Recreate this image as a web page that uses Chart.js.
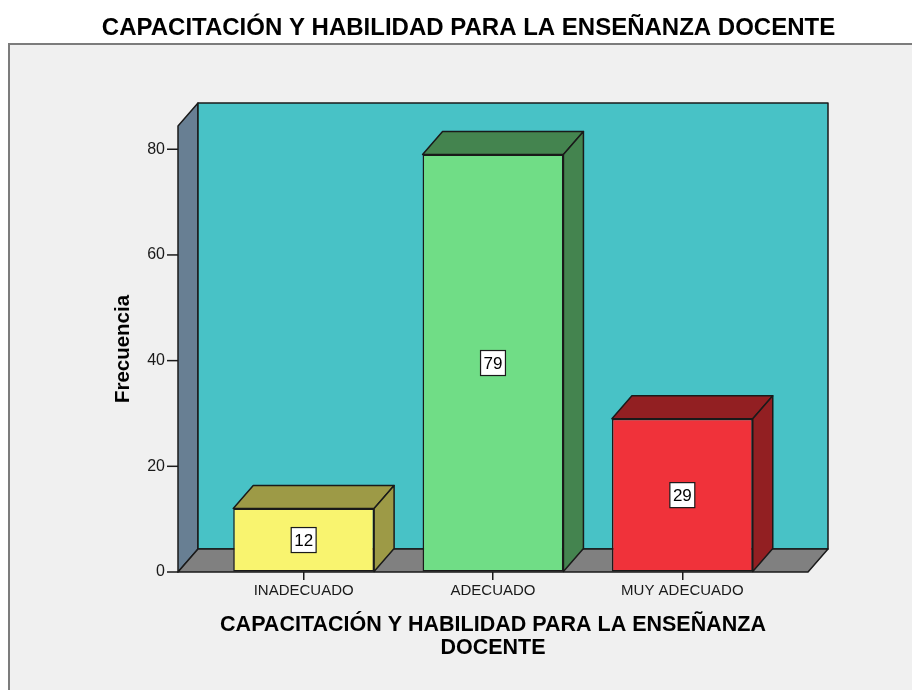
<!DOCTYPE html>
<html lang="es">
<head>
<meta charset="utf-8">
<title>Capacitación y habilidad para la enseñanza docente</title>
<script src="https://cdn.jsdelivr.net/npm/chart.js@4.4.1/dist/chart.umd.min.js"></script>
<style>
    html, body { margin: 0; padding: 0; background: #ffffff; }
    #wrap { position: relative; width: 912px; height: 690px; }
</style>
</head>
<body>
<div id="wrap"><canvas id="chart"></canvas></div>
<script>
// Chart data
const categories = ['INADECUADO', 'ADECUADO', 'MUY ADECUADO'];
const frequencies = [12, 79, 29];
const yTicks = [0, 20, 40, 60, 80];

// Bar colours (front face / top and side faces)
const frontColors = ['#f9f46f', '#70dd86', '#f0323a'];
const shadeColors = ['#9d9a46', '#44844f', '#921f22'];

// 3D depth offset and how far the walls reach past the plot area
const DX = 20;
const DY = -23;
const WALL_PAD = 31;
const EDGE = '#1a1a1a';

const FONT = '"Liberation Sans", Arial, sans-serif';

// Draw a filled, outlined polygon
function poly(ctx, pts, fill) {
    ctx.beginPath();
    ctx.moveTo(pts[0][0], pts[0][1]);
    for (let i = 1; i < pts.length; i++) ctx.lineTo(pts[i][0], pts[i][1]);
    ctx.closePath();
    ctx.fillStyle = fill;
    ctx.fill();
    ctx.strokeStyle = EDGE;
    ctx.lineWidth = 1.5;
    ctx.stroke();
}

// Frame, walls, floor and the 3D faces of the bars
const box3d = {
    id: 'box3d',
    beforeDraw(chart) {
        const ctx = chart.ctx;
        ctx.save();
        ctx.fillStyle = '#ffffff';
        ctx.fillRect(0, 0, chart.width, chart.height);
        ctx.fillStyle = '#f0f0f0';
        ctx.fillRect(8, 43, chart.width, chart.height);
        ctx.strokeStyle = '#7c7c7c';
        ctx.lineWidth = 2;
        ctx.beginPath();
        ctx.moveTo(9, chart.height + 2);
        ctx.lineTo(9, 44);
        ctx.lineTo(chart.width + 2, 44);
        ctx.stroke();
        ctx.restore();
    },
    beforeDatasetsDraw(chart) {
        const ctx = chart.ctx;
        const area = chart.chartArea;
        const y = chart.scales.y;
        const left = area.left - WALL_PAD;
        const right = area.right + WALL_PAD;
        const top = area.top;
        const bottom = y.getPixelForValue(0);

        ctx.save();
        ctx.lineJoin = 'round';
        // side wall, back wall, floor
        poly(ctx, [[left, bottom], [left, top], [left + DX, top + DY], [left + DX, bottom + DY]], '#687f93');
        poly(ctx, [[left + DX, top + DY], [right + DX, top + DY], [right + DX, bottom + DY], [left + DX, bottom + DY]], '#48c2c6');
        poly(ctx, [[left, bottom], [left + DX, bottom + DY], [right + DX, bottom + DY], [right, bottom]], '#808080');

        // y tick marks against the side wall
        ctx.strokeStyle = EDGE;
        ctx.lineWidth = 1.5;
        y.ticks.forEach(t => {
            const py = y.getPixelForValue(t.value);
            ctx.beginPath();
            ctx.moveTo(left - 11, py);
            ctx.lineTo(left, py);
            ctx.stroke();
        });

        // top and right faces of every bar
        chart.getDatasetMeta(0).data.forEach((bar, i) => {
            const l = bar.x - bar.width / 2;
            const r = bar.x + bar.width / 2;
            poly(ctx, [[l, bar.y], [l + DX, bar.y + DY], [r + DX, bar.y + DY], [r, bar.y]], shadeColors[i]);
            poly(ctx, [[r, bar.y], [r + DX, bar.y + DY], [r + DX, bar.base + DY], [r, bar.base]], shadeColors[i]);
        });
        ctx.restore();
    },
    afterDatasetsDraw(chart) {
        const ctx = chart.ctx;
        ctx.save();
        ctx.font = '17px ' + FONT;
        ctx.textAlign = 'center';
        ctx.textBaseline = 'middle';
        chart.getDatasetMeta(0).data.forEach((bar, i) => {
            const txt = String(frequencies[i]);
            const cx = bar.x;
            const cy = (bar.y + bar.base) / 2;
            const w = ctx.measureText(txt).width + 6;
            const h = 25;
            ctx.fillStyle = '#ffffff';
            ctx.fillRect(cx - w / 2, cy - h / 2, w, h);
            ctx.strokeStyle = EDGE;
            ctx.lineWidth = 1.2;
            ctx.strokeRect(cx - w / 2, cy - h / 2, w, h);
            ctx.fillStyle = '#000000';
            ctx.fillText(txt, cx, cy + 1);
        });
        ctx.restore();
    }
};

const ctx = document.getElementById('chart').getContext('2d');
new Chart(ctx, {
    type: 'bar',
    data: {
        labels: categories,
        datasets: [{
            label: 'Frecuencia',
            data: frequencies,
            backgroundColor: frontColors,
            borderColor: EDGE,
            borderWidth: 1.5,
            borderSkipped: false,
            categoryPercentage: 1,
            barPercentage: 0.744
        }]
    },
    options: {
        responsive: true,
        maintainAspectRatio: false,
        animation: false,
        devicePixelRatio: 1,
        layout: { padding: { left: 25, right: 0, top: 0, bottom: 0 } },
        plugins: {
            legend: { display: false },
            tooltip: { enabled: false },
            title: {
                display: true,
                text: 'CAPACITACIÓN Y HABILIDAD PARA LA ENSEÑANZA DOCENTE',
                color: '#000000',
                font: { family: FONT, size: 24, weight: 'bold', lineHeight: 1.2 },
                padding: { top: 14.4, bottom: 82.8 }
            }
        },
        scales: {
            x: {
                offset: true,
                grid: { drawOnChartArea: false, offset: false, tickLength: 8, tickColor: EDGE, lineWidth: 1.5 },
                border: { display: false },
                ticks: { color: '#1a1a1a', padding: 2, font: { family: FONT, size: 15 } },
                title: {
                    display: true,
                    text: ['CAPACITACIÓN Y HABILIDAD PARA LA ENSEÑANZA', 'DOCENTE'],
                    color: '#000000',
                    font: { family: FONT, size: 21.5, weight: 'bold', lineHeight: 1.07 },
                    padding: { top: 0, bottom: 30.5 }
                },
                afterFit: s => { s.height = 118; }
            },
            y: {
                min: 0,
                max: 84.4,
                grid: { drawOnChartArea: false, drawTicks: true, tickLength: 42, tickColor: 'rgba(0,0,0,0)' },
                border: { display: false },
                ticks: { color: '#1a1a1a', padding: 2, font: { family: FONT, size: 16 } },
                afterBuildTicks: s => { s.ticks = yTicks.map(v => ({ value: v })); },
                title: {
                    display: true,
                    text: 'Frecuencia',
                    color: '#000000',
                    font: { family: FONT, size: 20.5, weight: 'bold', lineHeight: 1.2 },
                    padding: { top: 86.2, bottom: 0 }
                },
                afterFit: s => { s.width = 184; }
            },
            // empty right-hand axis that only reserves space
            yRight: {
                type: 'linear',
                position: 'right',
                display: true,
                grid: { display: false },
                border: { display: false },
                ticks: { display: false },
                afterFit: s => { s.width = 135; }
            }
        }
    },
    plugins: [box3d]
});
</script>
</body>
</html>
